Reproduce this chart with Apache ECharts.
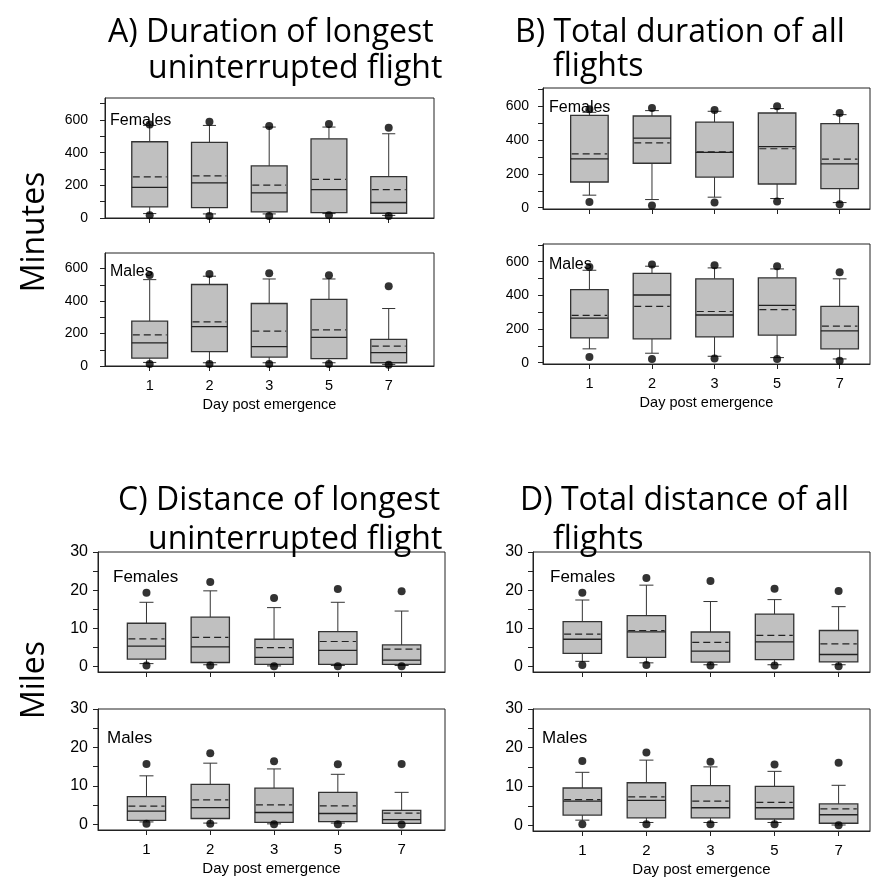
<!DOCTYPE html>
<html><head><meta charset="utf-8">
<script src="https://cdn.jsdelivr.net/npm/echarts@6/dist/echarts.min.js"></script>
<style>html,body{margin:0;padding:0;background:#fff}#c{width:876px;height:889px}</style>
</head><body><div id="c"></div>
<script>
// ---- data ----
const days = ['1', '2', '3', '5', '7'];
const minuteLabels = [0, 200, 400, 600];
const minuteTicks = [0, 100, 200, 300, 400, 500, 600, 700];
const mileLabels = [0, 10, 20, 30];
const mileTicks = [0, 5, 10, 15, 20, 25, 30];

// box rows: [lower whisker, Q1, median, Q3, upper whisker]
// A) Duration of longest uninterrupted flight (minutes)
const aFemBox = [[27, 68, 187, 467, 567], [25, 64, 215, 463, 567], [25, 37, 154, 319, 557], [27, 33, 174, 485, 557], [16, 29, 95, 254, 516]];
const aFemMean = [252, 258, 201, 236, 174];
const aFemOutLow = [17, 12, 12, 17, 12];
const aFemOutHigh = [572, 590, 563, 575, 553];
const aMalBox = [[22, 49, 143, 276, 532], [20, 88, 242, 502, 553], [20, 55, 119, 385, 536], [20, 45, 176, 410, 536], [10, 20, 82, 164, 354]];
const aMalMean = [192, 272, 215, 223, 123];
const aMalOutLow = [12, 12, 12, 12, 8];
const aMalOutHigh = [561, 567, 571, 559, 491];
// B) Total duration of all flights (minutes)
const bFemBox = [[74, 152, 289, 547, 565], [48, 263, 412, 543, 575], [62, 181, 328, 507, 571], [54, 140, 362, 561, 587], [30, 113, 259, 498, 551]];
const bFemMean = [319, 384, 330, 349, 287];
const bFemOutLow = [34, 12, 30, 36, 20];
const bFemOutHigh = [583, 590, 579, 601, 561];
const bMalBox = [[82, 147, 265, 434, 549], [56, 141, 402, 531, 573], [38, 153, 283, 498, 563], [30, 163, 340, 504, 557], [22, 82, 189, 334, 498]];
const bMalMean = [281, 334, 304, 315, 217];
const bMalOutLow = [34, 22, 24, 22, 12];
const bMalOutHigh = [569, 583, 579, 573, 537];
// C) Distance of longest uninterrupted flight (miles)
const cFemBox = [[0.7, 1.9, 5.3, 11.3, 16.8], [0.4, 1.0, 5.1, 12.9, 19.8], [0.1, 0.5, 2.35, 7.1, 15.4], [0.2, 0.5, 4.2, 9.1, 16.8], [0.2, 0.5, 1.6, 5.6, 14.5]];
const cFemMean = [7.2, 7.6, 4.9, 6.5, 4.5];
const cFemOutLow = [0.2, 0.2, 0, 0, 0];
const cFemOutHigh = [19.3, 22.1, 17.9, 20.3, 19.7];
const cMalBox = [[0.6, 1.0, 3.4, 7.2, 12.6], [0.3, 1.5, 4.3, 10.4, 15.9], [0.1, 0.5, 3.05, 9.4, 14.4], [0.3, 0.7, 2.8, 8.3, 13.0], [0.2, 0.2, 1.2, 3.6, 8.3]];
const cMalMean = [4.7, 6.35, 5.05, 4.8, 2.9];
const cMalOutLow = [0.1, 0.1, 0, 0, -0.1];
const cMalOutHigh = [15.7, 18.5, 16.4, 15.6, 15.7];
// D) Total distance of all flights (miles)
const dFemBox = [[1.3, 3.4, 7.1, 11.7, 17.4], [0.9, 2.35, 9.05, 13.3, 21.3], [0.4, 1.1, 4.0, 9.0, 17.0], [0.4, 1.75, 6.4, 13.7, 17.5], [0.4, 1.15, 3.1, 9.4, 15.65]];
const dFemMean = [8.45, 9.4, 6.3, 8.1, 5.9];
const dFemOutLow = [0.35, 0.35, 0.2, 0.2, 0];
const dFemOutHigh = [19.3, 23.2, 22.4, 20.35, 19.75];
const dMalBox = [[1.3, 2.6, 6.2, 9.6, 13.65], [0.7, 1.9, 6.4, 10.96, 16.8], [0.7, 1.9, 4.5, 10.2, 15.05], [0.7, 1.6, 4.5, 10.0, 13.9], [0.05, 0.5, 2.7, 5.5, 10.3]];
const dMalMean = [6.6, 7.3, 6.2, 5.9, 4.2];
const dMalOutLow = [0.26, 0.26, 0.26, 0.26, 0];
const dMalOutHigh = [16.6, 18.8, 16.4, 15.7, 16.1];

// ---- layout ----
const panels = [
  {box: aFemBox, mean: aFemMean, lo: aFemOutLow, hi: aFemOutHigh, g: {left: 105, top: 98, width: 329, height: 120}, y: [0, 735], x: [-0.748, 4.758], mi: true, tag: 'Females', tx: 110, ty: 113, males: false, fs: 16, lm: 17, lf: 14, xf: 14.5},
  {box: aMalBox, mean: aMalMean, lo: aMalOutLow, hi: aMalOutHigh, g: {left: 105, top: 253, width: 329, height: 113}, y: [0, 696], x: [-0.748, 4.758], mi: true, tag: 'Males', tx: 110, ty: 264, males: true, fs: 16, lm: 17, lf: 14, xf: 14.5},
  {box: bFemBox, mean: bFemMean, lo: bFemOutLow, hi: bFemOutHigh, g: {left: 543, top: 88, width: 327, height: 121}, y: [-8, 709], x: [-0.742, 4.485], mi: true, tag: 'Females', tx: 549, ty: 100, males: false, fs: 16, lm: 14, lf: 14, xf: 14.5},
  {box: bMalBox, mean: bMalMean, lo: bMalOutLow, hi: bMalOutHigh, g: {left: 543, top: 244, width: 327, height: 120}, y: [-8, 705], x: [-0.742, 4.485], mi: true, tag: 'Males', tx: 549, ty: 257, males: true, fs: 16, lm: 14, lf: 14, xf: 14.5},
  {box: cFemBox, mean: cFemMean, lo: cFemOutLow, hi: cFemOutHigh, g: {left: 98, top: 552, width: 347, height: 120}, y: [-1.5, 30], x: [-0.76, 4.68], mi: false, tag: 'Females', tx: 113, ty: 569, males: false, fs: 17, lm: 10, lf: 16, xf: 15},
  {box: cMalBox, mean: cMalMean, lo: cMalOutLow, hi: cMalOutHigh, g: {left: 98, top: 709, width: 347, height: 121}, y: [-1.5, 30], x: [-0.76, 4.68], mi: false, tag: 'Males', tx: 107, ty: 730, males: true, fs: 17, lm: 10, lf: 16, xf: 15},
  {box: dFemBox, mean: dFemMean, lo: dFemOutLow, hi: dFemOutHigh, g: {left: 533, top: 552, width: 337, height: 120}, y: [-1.5, 30], x: [-0.77, 4.49], mi: false, tag: 'Females', tx: 550, ty: 569, males: false, fs: 17, lm: 10, lf: 16, xf: 15},
  {box: dMalBox, mean: dMalMean, lo: dMalOutLow, hi: dMalOutHigh, g: {left: 533, top: 709, width: 337, height: 122}, y: [-1.5, 30], x: [-0.77, 4.49], mi: false, tag: 'Males', tx: 542, ty: 730, males: true, fs: 17, lm: 10, lf: 16, xf: 15}
];

const AX = '#222';
const LF = 'Liberation Sans, Arial, sans-serif';
const grids = [], xAxes = [], yAxes = [], series = [], graphics = [];

function renderBox(params, api) {
  const x = api.value(0);
  const pLo = api.coord([x, api.value(1)]);
  const pQ1 = api.coord([x, api.value(2)]);
  const pMed = api.coord([x, api.value(3)]);
  const pQ3 = api.coord([x, api.value(4)]);
  const pHi = api.coord([x, api.value(5)]);
  const pMean = api.coord([x, api.value(6)]);
  const unit = api.size([1, 0])[0];
  const bw = unit * 0.6, cw = unit * 0.22;
  const cx = pLo[0];
  const ln = {stroke: '#333', lineWidth: 1};
  return {
    type: 'group',
    children: [
      {type: 'line', shape: {x1: cx, y1: pHi[1], x2: cx, y2: pQ3[1]}, style: ln},
      {type: 'line', shape: {x1: cx, y1: pQ1[1], x2: cx, y2: pLo[1]}, style: ln},
      {type: 'line', shape: {x1: cx - cw / 2, y1: pHi[1], x2: cx + cw / 2, y2: pHi[1]}, style: ln},
      {type: 'line', shape: {x1: cx - cw / 2, y1: pLo[1], x2: cx + cw / 2, y2: pLo[1]}, style: ln},
      {type: 'rect', shape: {x: cx - bw / 2, y: pQ3[1], width: bw, height: pQ1[1] - pQ3[1]},
        style: {fill: '#c0c0c0', stroke: '#333', lineWidth: 1.3}},
      {type: 'line', shape: {x1: cx - bw / 2, y1: pMed[1], x2: cx + bw / 2, y2: pMed[1]}, style: {stroke: '#222', lineWidth: 1.3}},
      {type: 'line', shape: {x1: cx - bw / 2 + 1, y1: pMean[1], x2: cx + bw / 2 - 1, y2: pMean[1]}, style: {stroke: '#222', lineWidth: 1.2, lineDash: [7, 4]}}
    ]
  };
}

panels.forEach((p, i) => {
  grids.push(Object.assign({show: true, borderColor: AX, borderWidth: 1, backgroundColor: 'transparent', containLabel: false, outerBoundsMode: 'none'}, p.g));
  xAxes.push({
    type: 'value', gridIndex: i, min: p.x[0], max: p.x[1], position: 'bottom',
    axisLine: {show: true, onZero: false, lineStyle: {color: AX, width: 1}},
    axisTick: {show: true, customValues: [0, 1, 2, 3, 4], length: 5, lineStyle: {color: AX}},
    axisLabel: {show: p.males, customValues: [0, 1, 2, 3, 4], formatter: v => days[Math.round(v)], margin: 12,
      fontFamily: LF, fontSize: p.xf, color: '#000'},
    splitLine: {show: false},
    name: p.males ? 'Day post emergence' : '', nameLocation: 'middle', nameGap: 31,
    nameTextStyle: {fontFamily: LF, fontSize: p.xf, color: '#000'}
  });
  yAxes.push({
    type: 'value', gridIndex: i, min: p.y[0], max: p.y[1],
    axisLine: {show: true, onZero: false, lineStyle: {color: AX, width: 1}},
    axisTick: {show: true, customValues: (p.mi ? minuteTicks : mileTicks).filter(v => v <= p.y[1]), length: 5, lineStyle: {color: AX}},
    axisLabel: {customValues: p.mi ? minuteLabels : mileLabels, margin: p.lm,
      fontFamily: LF, fontSize: p.lf, color: '#000'},
    splitLine: {show: false}
  });
  series.push({
    type: 'custom', xAxisIndex: i, yAxisIndex: i, clip: false,
    renderItem: renderBox,
    encode: {x: 0, y: [1, 2, 3, 4, 5]},
    data: p.box.map((r, k) => [k, r[0], r[1], r[2], r[3], r[4], p.mean[k]]),
    z: 2
  });
  const pts = [];
  p.lo.forEach((v, k) => pts.push([k, v]));
  p.hi.forEach((v, k) => pts.push([k, v]));
  series.push({
    type: 'scatter', xAxisIndex: i, yAxisIndex: i, clip: false,
    symbol: 'circle', symbolSize: 8, itemStyle: {color: '#000'},
    data: pts, z: 3
  });
  graphics.push({type: 'text', left: p.tx, top: p.ty, style: {text: p.tag, fontFamily: LF, fontSize: p.fs, fill: '#000', verticalAlign: 'middle'}});
});

const TF = 'Open Sans, Lato, sans-serif';
const TS = 32;
function title(txt, x, y) {
  return {type: 'text', x: x, y: y, style: {text: txt, fontFamily: TF, fontSize: TS, fill: '#000', align: 'left', verticalAlign: 'middle'}};
}
graphics.push(title('A) Duration of longest', 108, 33));
graphics.push(title('uninterrupted flight', 148, 69));
graphics.push(title('B) Total duration of all', 515, 33));
graphics.push(title('flights', 553, 67));
graphics.push(title('C) Distance of longest', 118, 501));
graphics.push(title('uninterrupted flight', 148, 540));
graphics.push(title('D) Total distance of all', 520, 501));
graphics.push(title('flights', 553, 540));
graphics.push({type: 'text', x: 35, y: 232, rotation: Math.PI / 2, style: {text: 'Minutes', fontFamily: TF, fontSize: TS, fill: '#000', align: 'center', verticalAlign: 'middle'}});
graphics.push({type: 'text', x: 35, y: 680, rotation: Math.PI / 2, style: {text: 'Miles', fontFamily: TF, fontSize: TS, fill: '#000', align: 'center', verticalAlign: 'middle'}});

const chart = echarts.init(document.getElementById('c'), null, {renderer: 'canvas'});
chart.setOption({
  animation: false,
  backgroundColor: '#fff',
  grid: grids, xAxis: xAxes, yAxis: yAxes, series: series,
  graphic: graphics
});
</script></body></html>
